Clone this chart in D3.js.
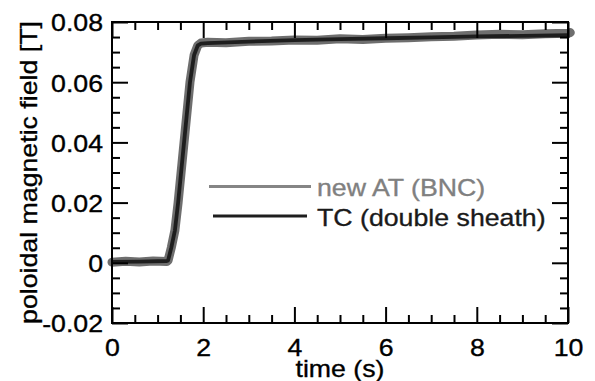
<!DOCTYPE html>
<html>
<head>
<meta charset="utf-8">
<script src="https://cdn.jsdelivr.net/npm/d3@7"></script>
<style>
  html, body { margin: 0; padding: 0; background: #fff; }
  svg text { font-family: "Liberation Sans", Arial, sans-serif; stroke-width: 0.35px; }
</style>
</head>
<body>
<svg id="chart"></svg>
<script>
const width = 595;
const height = 381;
const margin = { top: 22, right: 27, bottom: 58, left: 112 };
const fontSize = 24.5;
const textStretch = 1.09;

// series (time in s, field in T)
const tcTime  = [0, 0.6, 1.2, 1.23, 1.3, 1.38, 1.45, 1.71, 1.8, 1.88, 1.95, 2.1, 3, 4, 5, 6, 7, 8, 9, 10];
const tcField = [0.0003, 0.0004, 0.0006, 0.0008, 0.005, 0.0108, 0.02, 0.06, 0.069, 0.0722, 0.0728, 0.0730,
                 0.0735, 0.0740, 0.0743, 0.0746, 0.0749, 0.0752, 0.0754, 0.0756];

const atTime  = [0, 0.3, 0.6, 0.9, 1.2, 1.23, 1.3, 1.38, 1.45, 1.71, 1.8, 1.88, 1.95, 2.1, 2.5, 3, 3.5,
                 4, 4.5, 5, 5.5, 6, 6.5, 7, 7.5, 8, 8.5, 9, 9.5, 10, 10.05];
const atField = [0.0002, 0.0005, 0.0003, 0.0006, 0.0004, 0.0008, 0.005, 0.0108, 0.02, 0.06, 0.069, 0.0722,
                 0.0730, 0.0733, 0.0731, 0.0736, 0.0737, 0.0740, 0.0739, 0.0744, 0.0742, 0.0746, 0.0748,
                 0.0751, 0.0753, 0.0757, 0.0759, 0.0758, 0.0761, 0.0763, 0.0765];

const xMajor = [0, 2, 4, 6, 8, 10];
const yMajor = [-0.02, 0, 0.02, 0.04, 0.06, 0.08];
const xMinorStep = 0.5;
const yMinorStep = 0.005;

const legendLabels = ["new AT (BNC)", "TC (double sheath)"];

const x = d3.scaleLinear().domain([0, 10]).range([margin.left, width - margin.right]);
const y = d3.scaleLinear().domain([-0.02, 0.08]).range([height - margin.bottom, margin.top]);

const xMinor = d3.range(0, 10 + 1e-9, xMinorStep).filter(v => xMajor.indexOf(v) < 0);
const yMinor = d3.range(-0.02, 0.08 + 1e-9, yMinorStep)
    .map(v => +v.toFixed(3))
    .filter(v => !yMajor.some(m => Math.abs(m - v) < 1e-9));

const svg = d3.select("#chart")
    .attr("width", width)
    .attr("height", height);

// widen glyphs along the text direction like the original figure
function stretch(sel) {
    sel.each(function () {
        const len = this.getComputedTextLength();
        d3.select(this)
            .attr("textLength", len * textStretch)
            .attr("lengthAdjust", "spacingAndGlyphs");
    });
}

// data lines
const line = d3.line().x(d => x(d[0])).y(d => y(d[1]));
const atData = atTime.map((t, i) => [t, atField[i]]);
const tcData = tcTime.map((t, i) => [t, tcField[i]]);

svg.append("path")
    .datum(atData)
    .attr("d", line)
    .attr("fill", "none")
    .attr("stroke", "#6e6e6e")
    .attr("stroke-width", 9)
    .attr("stroke-linejoin", "round")
    .attr("stroke-linecap", "round");

svg.append("path")
    .datum(tcData)
    .attr("d", line)
    .attr("fill", "none")
    .attr("stroke", "#1e1e1e")
    .attr("stroke-width", 3.8)
    .attr("stroke-linejoin", "round");

// axes with inward ticks on all four sides
function addAxis(axisFn, scale, transform, values, size, withLabels, fmt) {
    const a = axisFn(scale)
        .tickValues(values)
        .tickSizeInner(-size)
        .tickSizeOuter(0)
        .tickPadding(9)
        .tickFormat(withLabels ? fmt : "");
    const g = svg.append("g").attr("transform", transform).call(a);
    g.select(".domain").remove();
    g.selectAll(".tick line").attr("stroke", "#000").attr("stroke-width", 2);
    g.selectAll(".tick text")
        .attr("font-size", fontSize)
        .attr("fill", "#000")
        .attr("stroke", "#000");
    return g;
}

const xFmt = d => String(d);
const yFmt = d => d === 0 ? "0" : d.toFixed(2);
const bottomY = height - margin.bottom;
const rightX = width - margin.right;

const gxb = addAxis(d3.axisBottom, x, `translate(0,${bottomY})`, xMajor, 16, true, xFmt);
addAxis(d3.axisBottom, x, `translate(0,${bottomY})`, xMinor, 8, false);
addAxis(d3.axisTop, x, `translate(0,${margin.top})`, xMajor, 16, false);
addAxis(d3.axisTop, x, `translate(0,${margin.top})`, xMinor, 8, false);
const gyl = addAxis(d3.axisLeft, y, `translate(${margin.left},0)`, yMajor, 16, true, yFmt);
addAxis(d3.axisLeft, y, `translate(${margin.left},0)`, yMinor, 8, false);
addAxis(d3.axisRight, y, `translate(${rightX},0)`, yMajor, 16, false);
addAxis(d3.axisRight, y, `translate(${rightX},0)`, yMinor, 8, false);

gxb.selectAll(".tick text").attr("y", 0).attr("dy", 32.5);
gyl.selectAll(".tick text").attr("x", -9).attr("dy", "0.36em");
stretch(gxb.selectAll(".tick text"));
stretch(gyl.selectAll(".tick text"));

// frame
svg.append("rect")
    .attr("x", margin.left)
    .attr("y", margin.top)
    .attr("width", rightX - margin.left)
    .attr("height", bottomY - margin.top)
    .attr("fill", "none")
    .attr("stroke", "#000")
    .attr("stroke-width", 2);

// axis titles
svg.append("text")
    .attr("x", (margin.left + rightX) / 2)
    .attr("y", 376.5)
    .attr("text-anchor", "middle")
    .attr("font-size", fontSize)
    .attr("fill", "#000")
    .attr("stroke", "#000")
    .text("time (s)")
    .call(stretch);

svg.append("text")
    .attr("transform", `translate(37,${(margin.top + bottomY) / 2}) rotate(-90)`)
    .attr("text-anchor", "middle")
    .attr("font-size", fontSize)
    .attr("fill", "#000")
    .attr("stroke", "#000")
    .text("poloidal magnetic field [T]")
    .call(stretch);

// legend
const legend = [
    { label: legendLabels[0], x1: 209, x2: 311, y: 186.5, stroke: "#858585", text: "#808080" },
    { label: legendLabels[1], x1: 213, x2: 307, y: 216, stroke: "#1e1e1e", text: "#1a1a1a" }
];
const lg = svg.append("g").selectAll("g").data(legend).join("g");
lg.append("line")
    .attr("x1", d => d.x1)
    .attr("x2", d => d.x2)
    .attr("y1", d => d.y)
    .attr("y2", d => d.y)
    .attr("stroke", d => d.stroke)
    .attr("stroke-width", 3);
lg.append("text")
    .attr("x", 317)
    .attr("y", d => d.y + 9.5)
    .attr("font-size", fontSize)
    .attr("fill", d => d.text)
    .attr("stroke", d => d.text)
    .text(d => d.label)
    .call(stretch);
</script>
</body>
</html>
